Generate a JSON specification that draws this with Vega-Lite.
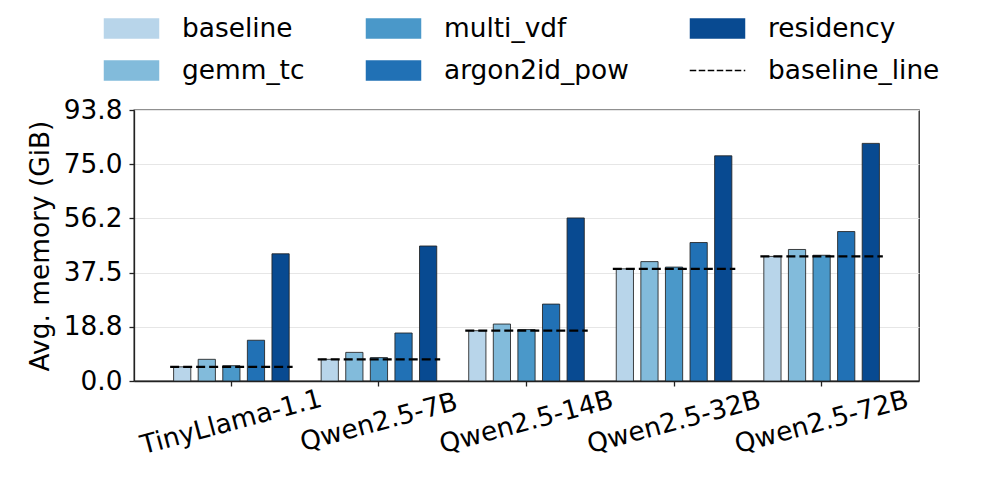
{
  "$schema": "https://vega.github.io/schema/vega-lite/v6.json",
  "autosize": "none",
  "width": 785,
  "height": 271,
  "padding": {"left": 134, "top": 110, "right": 77, "bottom": 117},
  "background": "white",
  "config": {
    "font": "DejaVu Sans",
    "view": {"stroke": "#222", "strokeWidth": 1.3},
    "axis": {"labelFont": "DejaVu Sans", "titleFont": "DejaVu Sans", "labelColor": "black", "titleColor": "black", "domainColor": "#222", "tickColor": "#222", "domainWidth": 1.3, "tickWidth": 1.3, "tickSize": 5}
  },
  "data": {
    "values": [
      {"model": "TinyLlama-1.1", "variant": "baseline", "value": 4.9},
      {"model": "TinyLlama-1.1", "variant": "gemm_tc", "value": 7.5},
      {"model": "TinyLlama-1.1", "variant": "multi_vdf", "value": 5.3},
      {"model": "TinyLlama-1.1", "variant": "argon2id_pow", "value": 14.1},
      {"model": "TinyLlama-1.1", "variant": "residency", "value": 44.0},
      {"model": "Qwen2.5-7B", "variant": "baseline", "value": 7.5},
      {"model": "Qwen2.5-7B", "variant": "gemm_tc", "value": 9.9},
      {"model": "Qwen2.5-7B", "variant": "multi_vdf", "value": 8.1},
      {"model": "Qwen2.5-7B", "variant": "argon2id_pow", "value": 16.6},
      {"model": "Qwen2.5-7B", "variant": "residency", "value": 46.7},
      {"model": "Qwen2.5-14B", "variant": "baseline", "value": 17.4},
      {"model": "Qwen2.5-14B", "variant": "gemm_tc", "value": 19.7},
      {"model": "Qwen2.5-14B", "variant": "multi_vdf", "value": 17.8},
      {"model": "Qwen2.5-14B", "variant": "argon2id_pow", "value": 26.6},
      {"model": "Qwen2.5-14B", "variant": "residency", "value": 56.4},
      {"model": "Qwen2.5-32B", "variant": "baseline", "value": 38.8},
      {"model": "Qwen2.5-32B", "variant": "gemm_tc", "value": 41.3},
      {"model": "Qwen2.5-32B", "variant": "multi_vdf", "value": 39.4},
      {"model": "Qwen2.5-32B", "variant": "argon2id_pow", "value": 47.9},
      {"model": "Qwen2.5-32B", "variant": "residency", "value": 77.9},
      {"model": "Qwen2.5-72B", "variant": "baseline", "value": 43.1},
      {"model": "Qwen2.5-72B", "variant": "gemm_tc", "value": 45.5},
      {"model": "Qwen2.5-72B", "variant": "multi_vdf", "value": 43.5},
      {"model": "Qwen2.5-72B", "variant": "argon2id_pow", "value": 51.7},
      {"model": "Qwen2.5-72B", "variant": "residency", "value": 82.2}
    ]
  },
  "encoding": {
    "x": {
      "field": "model", "type": "nominal", "sort": null,
      "scale": {"paddingInner": 0, "paddingOuter": 0.16},
      "axis": {"title": null, "labelAngle": -15, "labelAlign": "center", "labelBaseline": "middle", "labelPadding": 36, "labelFontSize": 26.4, "labelBound": false, "labelOverlap": false, "labelLimit": 1000, "grid": false}
    },
    "y": {
      "field": "value", "type": "quantitative",
      "scale": {"domain": [0, 93.75], "nice": false, "zero": true},
      "axis": {
        "title": "Avg. memory (GiB)", "titleFontSize": 26.4, "titleFontWeight": "normal", "titlePadding": 9,
        "labelFontSize": 26.4, "labelPadding": 7, "labelLimit": 1000,
        "values": [0, 18.75, 37.5, 56.25, 75, 93.75],
        "labelExpr": "datum.value == 56.25 ? '56.2' : format(datum.value, '.1f')",
        "grid": true, "gridColor": "#e6e6e6", "gridWidth": 1
      }
    }
  },
  "layer": [
    {
      "mark": {"type": "bar", "strokeWidth": 0},
      "encoding": {
        "xOffset": {
          "field": "variant", "type": "nominal",
          "sort": ["baseline", "gemm_tc", "multi_vdf", "argon2id_pow", "residency"],
          "scale": {"paddingInner": 0.3, "paddingOuter": 0.65}
        },
        "color": {
          "field": "variant", "type": "nominal",
          "scale": {
            "domain": ["baseline", "gemm_tc", "multi_vdf", "argon2id_pow", "residency", "baseline_line"],
            "range": ["#b8d5ea", "#82bbdb", "#4a98c9", "#2171b5", "#084a91", "#000000"]
          },
          "legend": {
            "title": null, "orient": "none", "legendX": -31, "legendY": -110,
            "columns": 3, "columnPadding": 57, "rowPadding": -1.6, "padding": 0,
            "labelFontSize": 26.4, "labelFont": "DejaVu Sans", "labelColor": "black", "labelOffset": 22, "labelLimit": 1000,
            "symbolSize": 3080, "symbolStrokeWidth": 1.5, "symbolOpacity": 1,
            "symbolType": {"expr": "datum.value === 'baseline_line' ? 'M-1,0H1' : 'M-1,-0.37H1V0.37H-1Z'"},
            "symbolStrokeColor": {"expr": "datum.value === 'baseline_line' ? 'black' : 'transparent'"},
            "symbolDash": {"expr": "datum.value === 'baseline_line' ? [6.5, 2.5] : [1, 0]"}
          }
        }
      }
    },
    {
      "mark": {"type": "bar", "fillOpacity": 0, "stroke": "#222", "strokeWidth": 1, "strokeOpacity": 0.85},
      "encoding": {
        "xOffset": {
          "field": "variant", "type": "nominal",
          "sort": ["baseline", "gemm_tc", "multi_vdf", "argon2id_pow", "residency"]
        }
      }
    },
    {
      "transform": [{"filter": "datum.variant === 'baseline'"}],
      "mark": {"type": "rule", "color": "black", "strokeWidth": 2.3, "strokeDash": [9, 4]},
      "encoding": {
        "x": {"field": "model", "type": "nominal", "sort": null, "bandPosition": 0.085},
        "x2": {"field": "model", "bandPosition": 0.915}
      }
    }
  ]
}
